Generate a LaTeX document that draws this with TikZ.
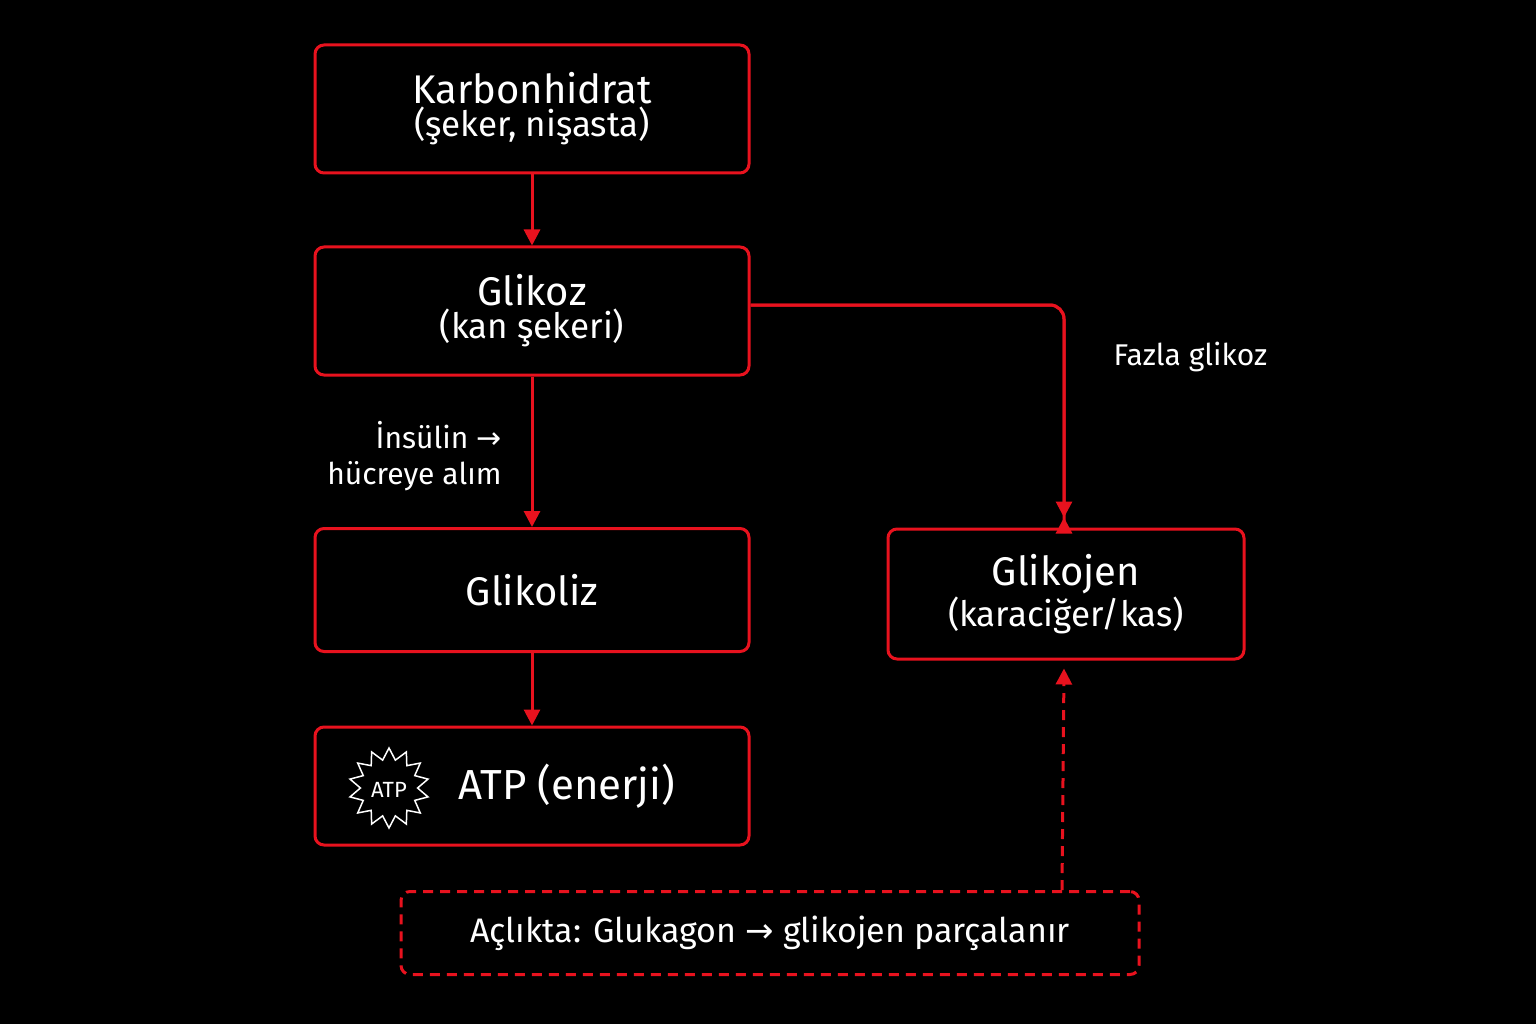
\documentclass[tikz,border=0pt]{standalone}
\usepackage{fontspec}
\setmainfont{Fira Sans}
\newfontfamily\symf{DejaVu Sans}
\usetikzlibrary{shapes.geometric,arrows.meta}
\definecolor{myred}{RGB}{232,18,30}
\begin{document}
\begin{tikzpicture}[x=1pt,y=-1pt,
  box/.style={draw=myred,line width=3pt,rounded corners=9pt,text=white,align=center,inner sep=0pt},
  conn/.style={draw=myred,line width=3pt,-{Triangle[length=16pt,width=16pt]}},
  lbl/.style={text=white,font=\fontsize{30}{36}\selectfont}]
\fill[black] (0,0) rectangle (1536,1024);
\node[box,minimum width=434pt,minimum height=128pt] (k) at (532,109)
 {{\fontsize{40}{46}\selectfont Karbonhidrat}\\[2pt]{\fontsize{35}{42}\selectfont (şeker, nişasta)}};
\node[box,minimum width=434pt,minimum height=128pt] (g) at (532,311)
 {{\fontsize{40}{46}\selectfont Glikoz}\\[2pt]{\fontsize{35}{42}\selectfont (kan şekeri)}};
\node[box,minimum width=434pt,minimum height=123pt] (gl) at (532,590)
 {\fontsize{40}{46}\selectfont Glikoliz};
\node[box,minimum width=434pt,minimum height=118pt] (atp) at (532,786) {};
\node[draw=white,line width=1.5pt,star,star points=14,star point ratio=1.4,minimum size=80pt,inner sep=0pt] (st) at (389,788) {};
\node[text=white,font=\fontsize{22}{24}\selectfont] (stt) at (389,790) {ATP};
\node[text=white,anchor=west,font=\fontsize{42}{48}\selectfont] (atpt) at (455,786) {ATP (enerji)};
\node[box,minimum width=356pt,minimum height=130pt] (gk) at (1066,594)
 {{\fontsize{40}{46}\selectfont Glikojen}\\[2pt]{\fontsize{35}{42}\selectfont (karaciğer/kas)}};
\node[box,dashed,dash pattern=on 10pt off 7pt,minimum width=738pt,minimum height=83pt] (a) at (770,933)
 {\fontsize{34}{40}\selectfont Açlıkta: Glukagon {\symf →} glikojen parçalanır};
\draw[conn] (k) -- (g);
\draw[conn] (g) -- (gl);
\draw[conn] (gl) -- (atp);
\coordinate (c1) at (1064,305);
\draw[conn,rounded corners=14pt] (g.east |- c1) -- (c1) -- (c1 |- gk.north) ++(0,-10) ;
\draw[conn,rounded corners=14pt] (g.east |- c1) -- (c1) -- ([yshift=10pt]c1 |- gk.north);
\draw[conn,dashed,dash pattern=on 10pt off 7pt] ([xshift=-2pt,yshift=0pt]a.north -| c1) -- ([yshift=-8pt]c1 |- gk.south);
\node[lbl,anchor=west] (fz) at (1110,357) {Fazla glikoz};
\node[lbl,anchor=east] (ins) at (505,435) {İnsülin {\symf →}};
\node[lbl,anchor=east] (hc) at (505,476) {hücreye alım};
\end{tikzpicture}
\end{document}
